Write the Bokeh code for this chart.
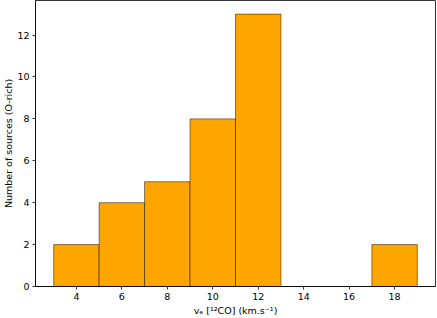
from bokeh.plotting import figure
from bokeh.models import FixedTicker, ColumnDataSource, Range1d
from bokeh.embed import file_html
from bokeh.resources import INLINE

# Histogram data (bin edges and counts)
bin_left = [3, 5, 7, 9, 11, 13, 15, 17]
bin_right = [5, 7, 9, 11, 13, 15, 17, 19]
counts = [2, 4, 5, 8, 13, 0, 0, 2]

x_ticks = [4, 6, 8, 10, 12, 14, 16, 18]
y_ticks = [0, 2, 4, 6, 8, 10, 12]

xlabel = "vₑ [¹²CO] (km.s⁻¹)"
ylabel = "Number of sources (O-rich)"

src = ColumnDataSource(dict(
    left=[l for l, c in zip(bin_left, counts) if c > 0],
    right=[r for r, c in zip(bin_right, counts) if c > 0],
    top=[c for c in counts if c > 0],
    bottom=[0 for c in counts if c > 0],
))

p = figure(width=437, height=318, output_backend="svg", toolbar_location=None,
           x_range=Range1d(2.2, 19.8), y_range=Range1d(0, 13.65),
           min_border_left=0, min_border_right=2, min_border_top=0, min_border_bottom=0)

p.quad(left="left", right="right", top="top", bottom="bottom", source=src,
       fill_color="#FFA500", line_color="black", line_width=0.6, line_alpha=0.8)

p.xgrid.visible = False
p.ygrid.visible = False
p.outline_line_color = "black"
p.outline_line_width = 0.8
p.background_fill_color = "white"
p.border_fill_color = "white"

p.xaxis.ticker = FixedTicker(ticks=x_ticks)
p.yaxis.ticker = FixedTicker(ticks=y_ticks)
for ax in (p.xaxis, p.yaxis):
    ax.major_tick_in = 0
    ax.major_tick_out = 3
    ax.minor_tick_line_color = None
    ax.major_tick_line_width = 0.8
    ax.axis_line_width = 0.8
    ax.axis_line_color = "black"
    ax.major_label_text_font = "DejaVu Sans"
    ax.major_label_text_font_size = "9.5px"
    ax.major_label_text_color = "black"
    ax.axis_label_text_font = "DejaVu Sans"
    ax.axis_label_text_font_size = "9.5px"
    ax.axis_label_text_font_style = "normal"
    ax.axis_label_text_color = "black"
    ax.major_label_standoff = 3

p.xaxis.axis_label = xlabel
p.yaxis.axis_label = ylabel
p.xaxis.axis_label_standoff = 2
p.yaxis.axis_label_standoff = 0

open("out.html", "w").write(file_html(p, INLINE))
